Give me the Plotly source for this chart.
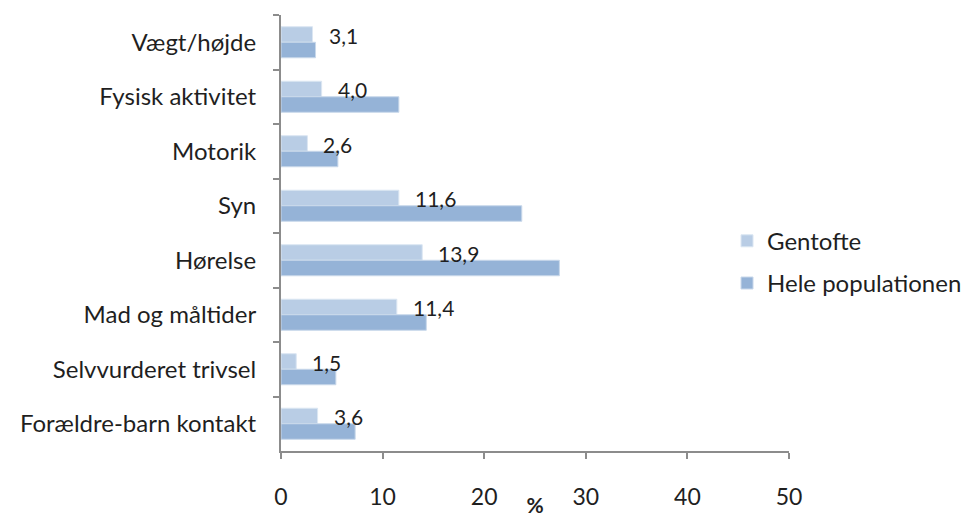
import plotly.graph_objects as go

categories = [
    "Vægt/højde",
    "Fysisk aktivitet",
    "Motorik",
    "Syn",
    "Hørelse",
    "Mad og måltider",
    "Selvvurderet trivsel",
    "Forældre-barn kontakt",
]
gentofte = [3.1, 4.0, 2.6, 11.6, 13.9, 11.4, 1.5, 3.6]
hele_populationen = [3.4, 11.6, 5.6, 23.7, 27.4, 14.3, 5.4, 7.3]
x_ticks = [0, 10, 20, 30, 40, 50]

FONT = "Lato, 'Open Sans', sans-serif"
AXIS_GREY = "#8c8c8c"
LIGHT = "#b9cde5"
DARK = "#95b3d7"
TEXT = "#1f1f1f"

fig = go.Figure()
fig.add_trace(go.Bar(
    y=categories, x=gentofte, orientation="h", name="Gentofte",
    marker=dict(color=LIGHT, line=dict(color="#dbe6f2", width=1)),
    legendgroup="g1",
))
fig.add_trace(go.Bar(
    y=categories, x=hele_populationen, orientation="h", name="Hele populationen",
    marker=dict(color=DARK, line=dict(color="#c9d8ea", width=1)),
    legendgroup="g2",
))

# value labels for the Gentofte series, placed just right of each light bar
for cat, v in zip(categories, gentofte):
    fig.add_annotation(
        x=v, y=cat, text=f"{v:.1f}".replace(".", ","),
        showarrow=False, xanchor="left", yanchor="middle",
        xshift=14, yshift=7,
        font=dict(family=FONT, size=21, color=TEXT),
    )

fig.update_layout(
    width=970, height=517,
    margin=dict(l=281, r=181, t=15, b=66, autoexpand=False),
    paper_bgcolor="white", plot_bgcolor="white",
    barmode="group", bargap=0.43, bargroupgap=0,
    font=dict(family=FONT, size=24, color=TEXT),
    showlegend=True,
    legend=dict(
        x=0.878, xanchor="left", y=0.433, yanchor="middle",
        traceorder="grouped", tracegroupgap=8,
        font=dict(family=FONT, size=24, color=TEXT),
        bgcolor="rgba(0,0,0,0)",
    ),
    xaxis=dict(
        range=[0, 50], tickvals=x_ticks, ticktext=[str(t) for t in x_ticks],
        showgrid=False, zeroline=False, automargin=False,
        showline=True, linecolor=AXIS_GREY, linewidth=2,
        ticks="outside", ticklen=6, tickwidth=2, tickcolor=AXIS_GREY,
        ticklabelstandoff=18,
        tickfont=dict(family=FONT, size=23, color=TEXT),
        title=dict(text="<b>%</b>", standoff=0,
                   font=dict(family=FONT, size=21, color=TEXT)),
    ),
    yaxis=dict(
        autorange="reversed", showgrid=False, zeroline=False, automargin=False,
        showline=True, linecolor=AXIS_GREY, linewidth=2,
        ticks="outside", ticklen=6, tickwidth=2, tickcolor=AXIS_GREY,
        tickson="boundaries", ticklabelstandoff=18,
        tickfont=dict(family=FONT, size=24, color=TEXT),
    ),
)

fig.write_html("out.html")
